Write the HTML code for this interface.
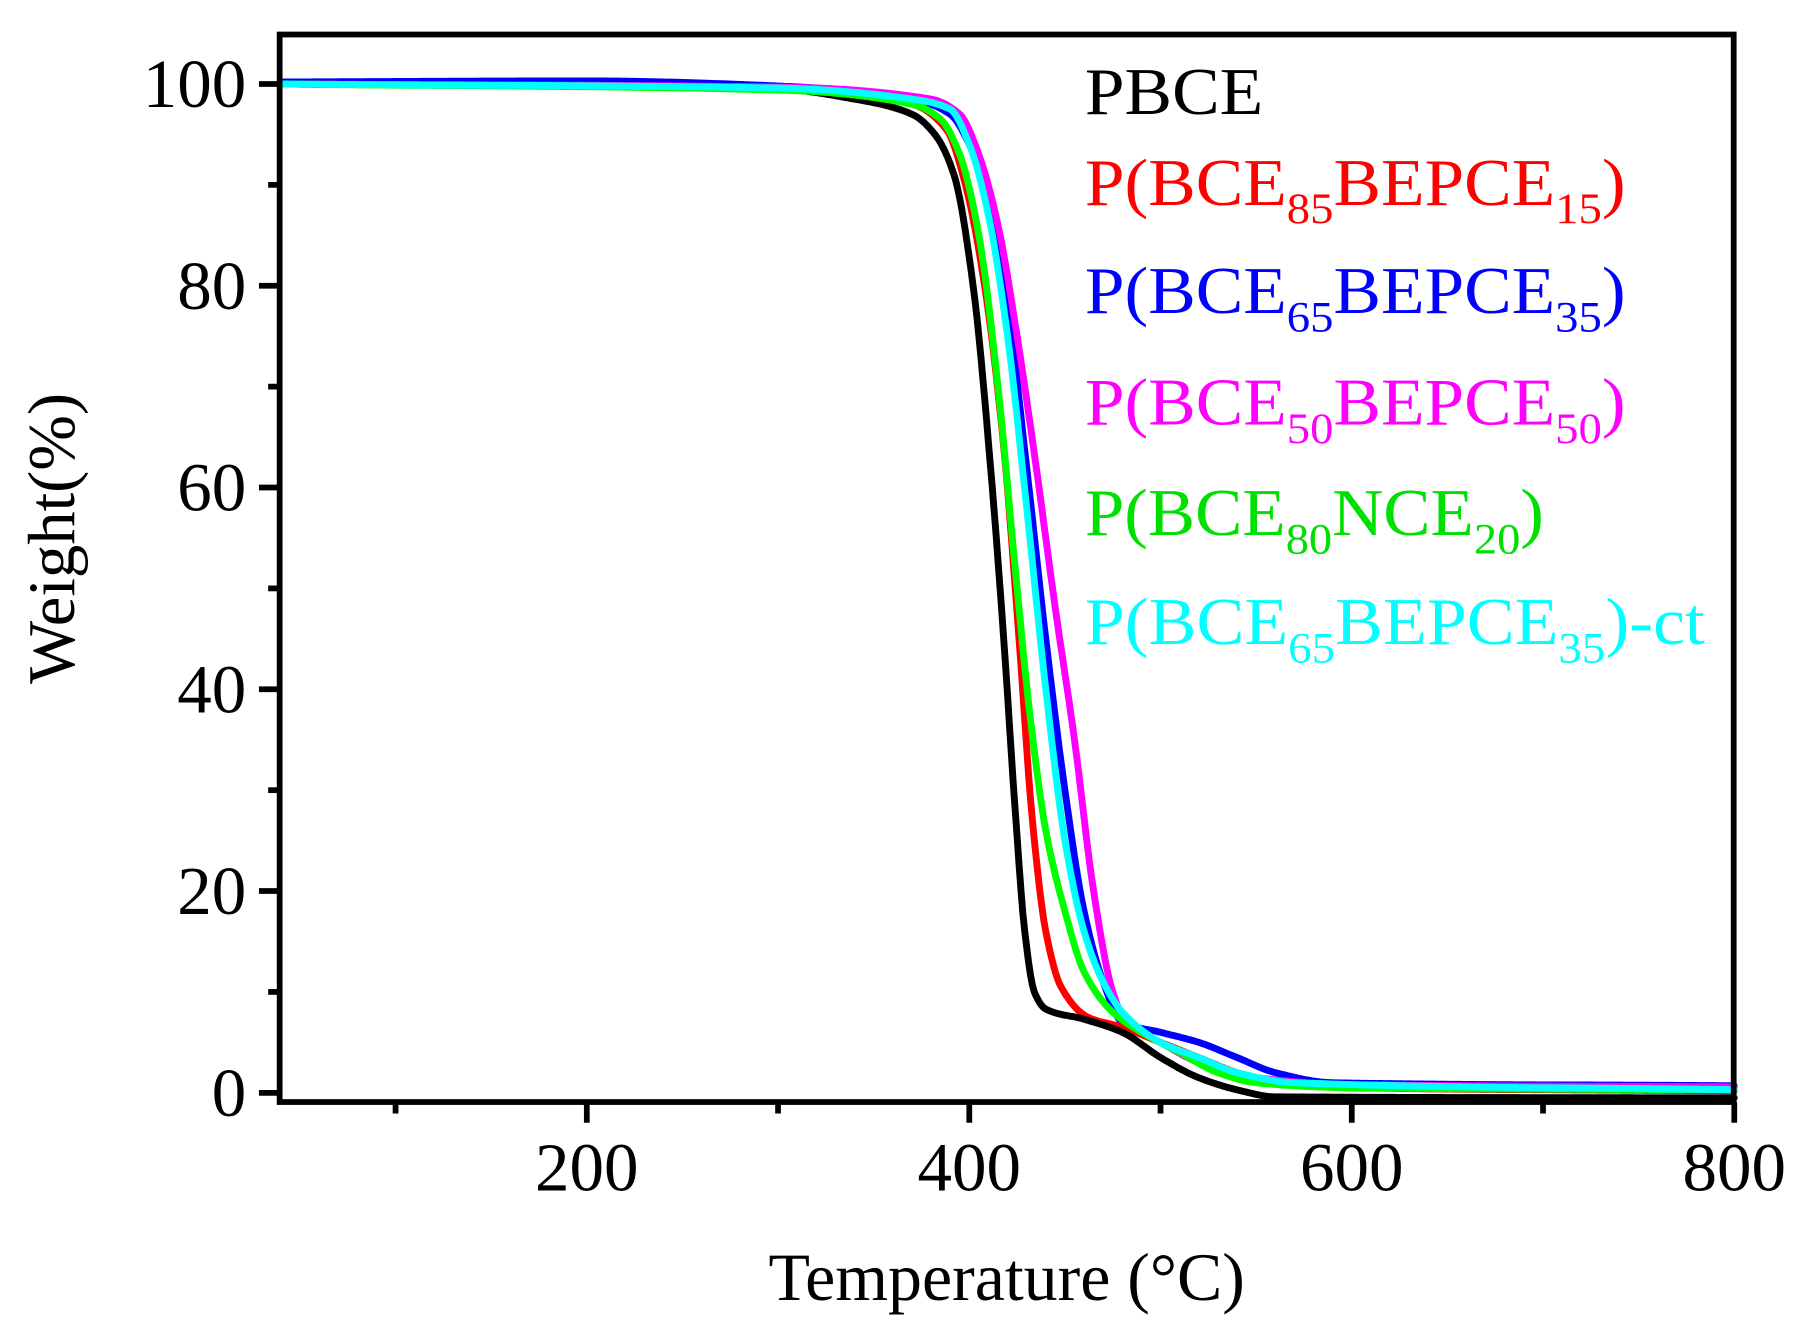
<!DOCTYPE html>
<html><head><meta charset="utf-8"><style>
html,body{margin:0;padding:0;background:#fff;}
svg{display:block;}
text{font-family:"Liberation Serif","Times New Roman",serif;}
</style></head><body>
<svg width="1804" height="1339" viewBox="0 0 1568 1164" xmlns="http://www.w3.org/2000/svg">
<g id="curves" fill="none" stroke-width="6" stroke-linejoin="round" stroke-linecap="round"></g>
<rect x="243" y="30" width="1264" height="928" fill="none" stroke="#000" stroke-width="5"/>
<g stroke="#000" stroke-width="5" id="ticks"></g>
<g font-size="60" fill="#000" id="labels"></g>
<text x="0" y="0" font-size="58" transform="translate(64,468) rotate(-90)" text-anchor="middle">Weight(%)</text>
<text x="875" y="1130" font-size="59" text-anchor="middle">Temperature (°C)</text>
<g font-size="58">
<text x="943" y="99" fill="#000" textLength="155" lengthAdjust="spacingAndGlyphs">PBCE</text>
<text x="943" y="178" fill="#ff0000" textLength="470" lengthAdjust="spacingAndGlyphs">P(BCE<tspan font-size="38" dy="16">85</tspan><tspan dy="-16">BEPCE</tspan><tspan font-size="38" dy="16">15</tspan><tspan dy="-16">)</tspan></text>
<text x="943" y="272" fill="#0000ff" textLength="470" lengthAdjust="spacingAndGlyphs">P(BCE<tspan font-size="38" dy="16">65</tspan><tspan dy="-16">BEPCE</tspan><tspan font-size="38" dy="16">35</tspan><tspan dy="-16">)</tspan></text>
<text x="943" y="369" fill="#ff00ff" textLength="470" lengthAdjust="spacingAndGlyphs">P(BCE<tspan font-size="38" dy="16">50</tspan><tspan dy="-16">BEPCE</tspan><tspan font-size="38" dy="16">50</tspan><tspan dy="-16">)</tspan></text>
<text x="943" y="465" fill="#00e000" textLength="399" lengthAdjust="spacingAndGlyphs">P(BCE<tspan font-size="38" dy="16">80</tspan><tspan dy="-16">NCE</tspan><tspan font-size="38" dy="16">20</tspan><tspan dy="-16">)</tspan></text>
<text x="943" y="560" fill="#00ffff" textLength="539" lengthAdjust="spacingAndGlyphs">P(BCE<tspan font-size="38" dy="16">65</tspan><tspan dy="-16">BEPCE</tspan><tspan font-size="38" dy="16">35</tspan><tspan dy="-16">)-ct</tspan></text>
</g>
</svg>
<script>
var X=function(t){return 510+(t-200)*1.6625;};
var Y=function(w){return 950-w*8.77;};
var S={
"#000000":[[40,100],[300,99.5],[340,98.5],[370,97],[382,95],[392,91],[402,80],[412,60],[418,45],[424,28],[429,16],[434,10],[440,8.3],[460,7.3],[480,6],[500,3.5],[520,1.5],[540,0.3],[560,-0.4],[800,-0.5]],
"#ff0000":[[40,100],[300,99.6],[370,98],[388,95.5],[398,90],[408,80],[418,64],[426,45],[433,27],[440,16],[448,10.5],[462,7.5],[480,6.5],[500,5],[520,3.5],[540,2],[560,1],[600,0.5],[800,0.2]],
"#00ff00":[[40,100],[300,99.4],[370,98],[385,96.5],[395,93],[405,85],[415,70],[424,52],[432,37],[440,26],[450,18],[460,12],[475,8],[490,6],[510,4],[530,2],[550,1],[600,0.5],[800,0.3]],
"#0000ff":[[40,100.2],[200,100.3],[300,99.8],[370,98.5],[390,97],[400,94],[410,88],[420,78],[430,62],[440,45],[450,30],[460,18],[470,11],[480,7],[500,6],[520,5],[540,3.5],[560,2],[590,1],[800,0.7]],
"#00ffff":[[40,100],[300,99.6],[370,98.5],[390,97.5],[400,94],[410,87],[420,75],[430,58],[440,40],[450,25],[460,16],[470,11],[480,8],[500,5],[520,3.5],[540,2],[570,1],[800,0.3]],
"#ff00ff":[[40,100],[300,99.7],[380,98.5],[395,97],[405,93],[415,86],[425,75],[435,62],[445,48],[455,35],[465,20],[475,10],[482,7],[500,5],[520,3],[550,1.5],[600,0.8],[800,0.6]]
};
function mkpath(pts){
  var n=pts.length,x=pts.map(function(d){return d[0];}),y=pts.map(function(d){return d[1];});
  var d=[],m=[];
  for(var i=0;i<n-1;i++)d.push((y[i+1]-y[i])/(x[i+1]-x[i]));
  m[0]=d[0];m[n-1]=d[n-2];
  for(var i=1;i<n-1;i++){ if(d[i-1]*d[i]<=0)m[i]=0; else { var w1=2*(x[i+1]-x[i])+(x[i]-x[i-1]), w2=(x[i+1]-x[i])+2*(x[i]-x[i-1]); m[i]=(w1+w2)/(w1/d[i-1]+w2/d[i]); } }
  var s="";
  for(var i=0;i<n-1;i++){var h=x[i+1]-x[i];var steps=Math.max(2,Math.ceil(h));
    for(var k=(i==0?0:1);k<=steps;k++){var t=k/steps,t2=t*t,t3=t2*t;
      var v=(2*t3-3*t2+1)*y[i]+(t3-2*t2+t)*h*m[i]+(-2*t3+3*t2)*y[i+1]+(t3-t2)*h*m[i+1];
      var xx=x[i]+t*h; s+=(s?" L":"M")+X(xx).toFixed(1)+","+Y(v).toFixed(1);}}
  return s;}
var order=["#0000ff","#ff00ff","#ff0000","#000000","#00ff00","#00ffff"];
var g=document.getElementById("curves"),ns="http://www.w3.org/2000/svg";
order.forEach(function(c){var e=document.createElementNS(ns,"path");e.setAttribute("stroke",c);e.setAttribute("d",mkpath(S[c]));g.appendChild(e);});
var tk=document.getElementById("ticks"),lb=document.getElementById("labels");
function line(x1,y1,x2,y2){var l=document.createElementNS(ns,"line");l.setAttribute("x1",x1);l.setAttribute("y1",y1);l.setAttribute("x2",x2);l.setAttribute("y2",y2);tk.appendChild(l);}
function txt(x,y,s,a){var t=document.createElementNS(ns,"text");t.setAttribute("x",x);t.setAttribute("y",y);t.setAttribute("text-anchor",a);t.textContent=s;lb.appendChild(t);}
for(var w=0;w<=100;w+=10){var y=Y(w);if(w%20==0){line(243,y,225,y);txt(214,y+20,String(w),"end");}else line(243,y,233,y);}
for(var t=100;t<=800;t+=100){var x=X(t);if(t%200==0){line(x,958,x,976);txt(x,1035,String(t),"middle");}else line(x,958,x,968);}
</script>
</body></html>
